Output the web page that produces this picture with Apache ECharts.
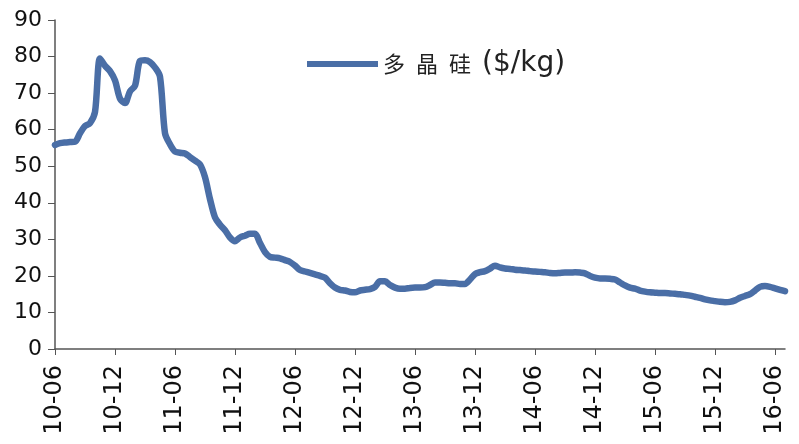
<!DOCTYPE html>
<html>
<head>
<meta charset="utf-8">
<script src="https://cdn.jsdelivr.net/npm/echarts@6/dist/echarts.min.js"></script>
<style>html,body{margin:0;padding:0;background:#fff}#c{width:799px;height:444px}</style>
</head>
<body>
<div id="c"></div>
<script>
// Half-monthly observations, 2010-06 .. 2016-07
const startYear = 2010, startMonth = 6;
const seriesName = '多晶硅($/kg)';
const priceValues = [
55.8,56.3,56.5,56.6,56.7,59.0,61.0,61.8,64.8,79.5,
77.5,76.0,73.5,68.5,67.3,70.5,72.0,78.8,79.0,78.5,
77.0,74.5,59.0,56.0,54.0,53.7,53.5,52.5,51.5,50.5,
47.0,41.0,36.0,34.0,32.5,30.5,29.5,30.5,31.0,31.5,
31.5,29.0,26.5,25.2,25.0,24.8,24.3,23.8,22.8,21.6,
21.2,20.8,20.4,20.0,19.5,18.0,16.8,16.2,16.0,15.6,
15.5,16.0,16.2,16.4,17.0,18.5,18.5,17.5,16.8,16.5,
16.5,16.7,16.8,16.8,16.9,17.5,18.2,18.2,18.1,18.0,
18.0,17.8,17.8,19.0,20.5,21.0,21.3,22.0,22.8,22.3,
22.0,21.9,21.7,21.6,21.5,21.3,21.2,21.1,21.0,20.8,
20.7,20.8,20.9,20.9,21.0,20.9,20.7,20.0,19.5,19.3,
19.3,19.2,19.0,18.2,17.4,16.8,16.5,16.0,15.7,15.5,
15.4,15.3,15.3,15.2,15.1,15.0,14.8,14.6,14.3,14.0,
13.6,13.3,13.1,12.9,12.8,12.9,13.3,14.0,14.5,15.0,
16.0,17.0,17.2,17.0,16.6,16.2,15.8
];
const yTicks = [0,10,20,30,40,50,60,70,80,90];

const categories = [];
for (let i = 0; i < priceValues.length; i++) {
  const m = startMonth - 1 + Math.floor(i / 2);
  const y = startYear + Math.floor(m / 12);
  const mm = (m % 12) + 1;
  categories.push(String(y).slice(2) + '-' + String(mm).padStart(2, '0') + (i % 2 ? '-16' : '-01'));
}

const chart = echarts.init(document.getElementById('c'), null, {renderer: 'canvas'});
chart.setOption({
  animation: false,
  backgroundColor: '#ffffff',
  grid: {left: 55, right: 14, top: 20, bottom: 95, containLabel: false},
  legend: {
    left: 302, top: 45,
    icon: 'rect', itemWidth: 71, itemHeight: 6, itemGap: 10,
    textStyle: {
      fontSize: 22, color: '#222', fontFamily: 'Noto Sans CJK SC', padding: [0,0,0,0],
      rich: {
        c: {fontSize: 22, width: 33, align: 'left', fontFamily: 'Noto Sans CJK SC', color: '#222'},
        u: {fontSize: 28, fontFamily: 'DejaVu Sans', color: '#222'}
      }
    },
    formatter: function(name){
      const i = name.indexOf('(');
      const cjk = name.slice(0, i).split('').map(function(ch){ return '{c|' + ch + '}'; }).join('');
      return cjk + '{u|' + name.slice(i) + '}';
    },
    data: [seriesName]
  },
  xAxis: {
    type: 'category',
    data: categories,
    boundaryGap: false,
    axisLine: {lineStyle: {color: '#555', width: 1.5}},
    axisTick: {interval: function(i){ return i % 12 === 0; }, length: 6, lineStyle: {color: '#555'}},
    axisLabel: {
      interval: function(i){ return i % 12 === 0; },
      rotate: 90, fontSize: 24, color: '#111', margin: 16,
      fontFamily: 'DejaVu Sans',
      formatter: function(v){ return v.slice(0,5); }
    },
    splitLine: {show: false}
  },
  yAxis: {
    type: 'value', min: yTicks[0], max: yTicks[yTicks.length-1], interval: 10,
    axisLine: {show: true, lineStyle: {color: '#555', width: 1.5}},
    axisTick: {show: true, length: 7, lineStyle: {color: '#555'}},
    axisLabel: {fontSize: 22, color: '#111', margin: 13, fontFamily: 'DejaVu Sans'},
    splitLine: {show: false}
  },
  series: [{
    name: seriesName,
    type: 'line',
    data: priceValues,
    smooth: 0.3,
    showSymbol: false,
    symbol: 'none',
    lineStyle: {color: '#4a6ea6', width: 6.5, cap: 'round', join: 'round'},
    itemStyle: {color: '#4a6ea6'}
  }]
});
</script>
</body>
</html>
